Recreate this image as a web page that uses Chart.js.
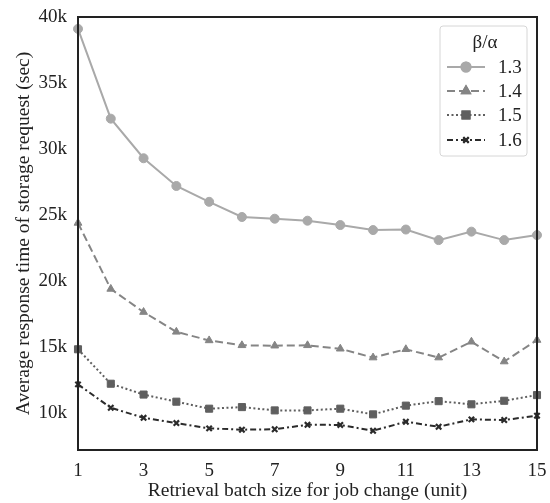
<!DOCTYPE html>
<html>
<head>
<meta charset="utf-8">
<script src="https://cdn.jsdelivr.net/npm/chart.js@4/dist/chart.umd.min.js"></script>
<style>
  html, body { margin: 0; padding: 0; background: #fff; }
  #wrap { width: 550px; height: 503px; }
</style>
</head>
<body>
<div id="wrap"><canvas id="chart"></canvas></div>
<script>
// batch sizes on the x axis
let batchSizes = ["1", "2", "3", "4", "5", "6", "7", "8", "9", "10", "11", "12", "13", "14", "15"];

// average response time (sec) for each beta/alpha ratio
let ratio13 = [39100, 32300, 29300, 27200, 26000, 24850, 24720, 24570, 24240, 23860, 23900, 23100, 23740, 23100, 23480];
let ratio14 = [24400, 19400, 17650, 16150, 15500, 15130, 15100, 15130, 14870, 14200, 14830, 14200, 15400, 13900, 15530];
let ratio15 = [14830, 12220, 11400, 10860, 10330, 10450, 10200, 10200, 10330, 9900, 10560, 10900, 10660, 10930, 11360];
let ratio16 = [12170, 10400, 9640, 9240, 8840, 8740, 8770, 9110, 9100, 8660, 9340, 8960, 9520, 9470, 9800];

let seriesNames = ["1.3", "1.4", "1.5", "1.6"];
let yTicks = [10000, 15000, 20000, 25000, 30000, 35000, 40000];

let serif = "'Liberation Serif', 'Times New Roman', serif";

function makeSet(label, data, color, dash, style, radius, width) {
  return {
    label: label,
    data: data,
    borderColor: color,
    backgroundColor: color,
    borderWidth: width,
    borderDash: dash,
    pointStyle: style,
    pointRadius: radius,
    pointBorderColor: color,
    pointBackgroundColor: color,
    pointBorderWidth: style === "crossRot" ? 2.2 : 1,
    tension: 0,
    clip: false,
  };
}

let datasets = [
  makeSet(seriesNames[0], ratio13, "#a9a9a9", [], "circle", 4.5, 2),
  makeSet(seriesNames[1], ratio14, "#858585", [8, 4], "triangle", 4.5, 2),
  makeSet(seriesNames[2], ratio15, "#5f5f5f", [2, 2.5], "rect", 5, 2),
  makeSet(seriesNames[3], ratio16, "#2b2b2b", [6, 3, 2, 3], "crossRot", 3.8, 2),
];

// frame around the plot + the legend box
let framePlugin = {
  id: "frame",
  afterDraw(chart) {
    let ctx = chart.ctx;
    let a = chart.chartArea;
    ctx.save();
    ctx.strokeStyle = "#222";
    ctx.lineWidth = 2;
    ctx.setLineDash([]);
    ctx.strokeRect(a.left, a.top, a.right - a.left, a.bottom - a.top);

    // legend
    let lx = 440, ly = 26, lw = 87, lh = 130;
    ctx.lineWidth = 1;
    ctx.strokeStyle = "#d6d6d6";
    ctx.fillStyle = "#fff";
    ctx.beginPath();
    ctx.roundRect(lx, ly, lw, lh, 3);
    ctx.fill();
    ctx.stroke();

    ctx.fillStyle = "#222";
    ctx.font = "19px " + serif;
    ctx.textAlign = "center";
    ctx.textBaseline = "middle";
    ctx.fillText("β/α", 485, 43);

    let rowsY = [67, 91, 115, 140];
    chart.data.datasets.forEach((ds, i) => {
      let y = rowsY[i];
      ctx.strokeStyle = ds.borderColor;
      ctx.lineWidth = ds.borderWidth;
      ctx.setLineDash(ds.borderDash);
      ctx.beginPath();
      ctx.moveTo(447, y);
      ctx.lineTo(485, y);
      ctx.stroke();
      ctx.setLineDash([]);
      Chart.helpers.drawPoint(ctx, {
        pointStyle: ds.pointStyle,
        radius: ds.pointRadius,
        borderWidth: ds.pointBorderWidth,
        rotation: 0,
      }, 466, y);
      ctx.fillStyle = ds.borderColor;
      ctx.strokeStyle = ds.borderColor;
      ctx.fill();
      ctx.stroke();
      ctx.fillStyle = "#222";
      ctx.textAlign = "left";
      ctx.fillText(ds.label, 498, y + 1);
    });
    ctx.restore();
  },
};

new Chart(document.getElementById("chart"), {
  type: "line",
  data: {
    labels: batchSizes,
    datasets: datasets,
  },
  options: {
    responsive: true,
    maintainAspectRatio: false,
    animation: false,
    layout: { padding: { top: 17, right: 13, left: 0, bottom: 0 } },
    plugins: {
      legend: { display: false },
      tooltip: { enabled: false },
    },
    scales: {
      x: {
        offset: false,
        grid: { display: false, drawTicks: false },
        border: { display: false },
        ticks: {
          autoSkip: false,
          maxRotation: 0,
          padding: 10,
          color: "#222",
          font: { family: serif, size: 19 },
          callback: function (v, i) {
            return i % 2 === 0 ? batchSizes[i] : "";
          },
        },
        title: {
          display: true,
          text: "Retrieval batch size for job change (unit)",
          color: "#222",
          font: { family: serif, size: 19.5 },
          padding: { top: 0, bottom: 0 },
        },
        afterFit(axis) {
          axis.height = 53;
          axis.paddingLeft = 0;
          axis.paddingRight = 0;
        },
      },
      y: {
        min: 7200,
        max: 40000,
        grid: { display: false, drawTicks: false },
        border: { display: false },
        afterBuildTicks(axis) {
          axis.ticks = yTicks.map((v) => ({ value: v }));
        },
        ticks: {
          padding: 11,
          color: "#222",
          font: { family: serif, size: 19 },
          callback: (v) => v / 1000 + "k",
        },
        title: {
          display: true,
          text: "Average response time of storage request (sec)",
          color: "#222",
          font: { family: serif, size: 19.5 },
          padding: { top: 12, bottom: 0 },
        },
        afterFit(axis) {
          axis.width = 78;
          axis.paddingTop = 0;
          axis.paddingBottom = 0;
        },
      },
    },
  },
  plugins: [framePlugin],
});
</script>
</body>
</html>
